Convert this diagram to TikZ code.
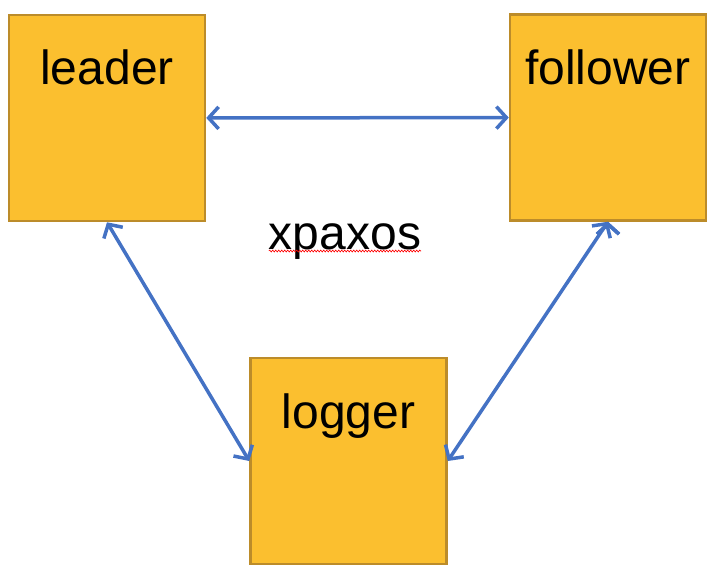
\documentclass[tikz,border=0pt]{standalone}
\usepackage{fontspec}
\setmainfont{Liberation Sans}
\usetikzlibrary{arrows.meta,positioning,decorations.pathmorphing}
\definecolor{boxfill}{HTML}{FBBF2F}
\definecolor{boxline}{HTML}{BC8C2A}
\definecolor{linkblue}{HTML}{4472C4}
\tikzset{
  role/.style={draw=boxline,fill=boxfill,line width=2.5pt,minimum width=196pt,minimum height=206pt,inner sep=0pt},
  rolename/.style={font=\fontsize{48}{52}\selectfont,anchor=base,inner sep=0pt},
  link/.style={draw=linkblue,line width=3.5pt,{Straight Barb[length=10pt,width=22pt]}-{Straight Barb[length=10pt,width=22pt]}}
}
\begin{document}
\begin{tikzpicture}[x=1pt,y=-1pt]
\useasboundingbox (0,0) rectangle (718,581);
\node[role] (leader) at (107,118) {};
\node[role] (follower) at (608,117.5) {};
\node[role] (logger) at (348.5,461) {};
\node[rolename] (leadername) at ([yshift=-71pt]leader.north) {leader};
\node[rolename] (followername) at ([yshift=-71pt]follower.north) {follower};
\node[rolename] (loggername) at ([yshift=-72pt]logger.north) {logger};
\node[rolename] (protocol) at (345,249) {xpaxos};
\draw[red,line width=0.6pt,decorate,decoration={snake,amplitude=1pt,segment length=3pt}]
  ([yshift=-2pt]protocol.base west) -- ([yshift=-2pt]protocol.base east);
\path[link]
(leader) edge (follower)
(leader.south) edge (logger.west)
(follower.south) edge (logger.east);
\end{tikzpicture}
\end{document}
